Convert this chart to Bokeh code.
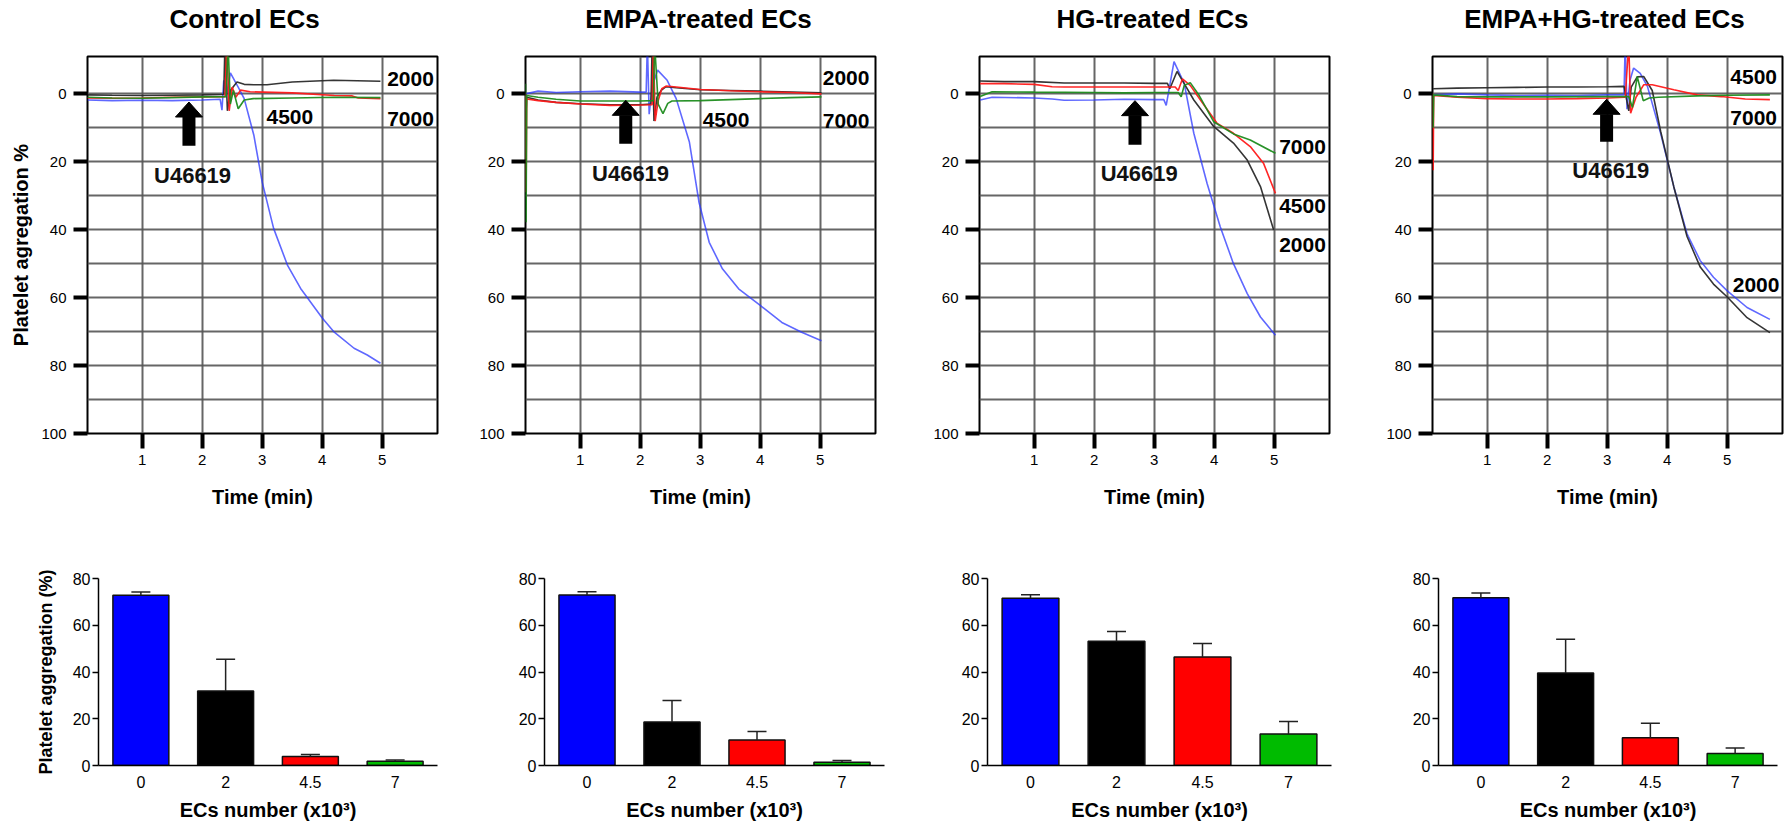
from bokeh.plotting import figure
from bokeh.layouts import row, column
from bokeh.models import Range1d, FactorRange, FixedTicker, Whisker, TeeHead, ColumnDataSource
from bokeh.embed import file_html
from bokeh.resources import INLINE
from bokeh.core.properties import value

FONT = "Liberation Sans"

# ---------------- data ----------------
titles = ["Control ECs", "EMPA-treated ECs", "HG-treated ECs", "EMPA+HG-treated ECs"]
time_ticks = [1, 2, 3, 4, 5]
agg_ticks = [0, 20, 40, 60, 80, 100]
grid_t = [1, 2, 3, 4, 5]
grid_v = [0, 10, 20, 30, 40, 50, 60, 70, 80, 90]

# Control traces (time min, aggregation %)
ctrl_blue_t = [0.09, 0.5, 1.0, 1.5, 2.0, 2.3, 2.33, 2.36, 2.40, 2.47, 2.6, 2.7, 2.86, 3.0, 3.19, 3.42, 3.64, 4.0, 4.19, 4.53, 4.75, 4.97]
ctrl_blue_v = [1.8, 2.0, 1.9, 2.0, 1.8, 1.6, 4.8, -4.0, 1.0, -6.2, -2.0, 1.4, 12.1, 26.0, 39.6, 50.4, 57.3, 66.0, 70.0, 74.9, 76.9, 79.3]
ctrl_black_t = [0.09, 0.5, 1.0, 1.5, 2.0, 2.36, 2.38, 2.42, 2.47, 2.58, 2.7, 2.86, 3.08, 3.5, 4.19, 4.97]
ctrl_black_v = [0.3, 0.4, 0.5, 0.4, 0.3, 0.2, -15.0, 5.0, -1.0, -3.5, -2.8, -2.7, -2.7, -3.5, -4.0, -3.7]
ctrl_red_t = [0.09, 0.5, 1.0, 1.5, 2.0, 2.38, 2.41, 2.45, 2.5, 2.56, 2.64, 2.8, 3.5, 4.2, 4.5, 4.6, 4.97]
ctrl_red_v = [1.2, 1.3, 1.2, 1.0, 0.9, 0.8, -15.0, 5.0, -2.0, 1.0, -1.1, -0.6, -0.3, 0.5, 0.6, 1.2, 1.4]
ctrl_green_t = [0.09, 0.5, 1.0, 1.5, 2.0, 2.4, 2.43, 2.47, 2.52, 2.6, 2.7, 2.85, 3.5, 4.2, 4.97]
ctrl_green_v = [1.0, 1.2, 1.3, 1.1, 0.9, 0.8, -15.0, 3.0, -1.0, 4.4, 1.8, 1.4, 1.2, 1.0, 1.1]

# EMPA-treated traces
empa_blue_t = [0.09, 0.3, 0.6, 1.0, 1.5, 2.0, 2.1, 2.12, 2.15, 2.2, 2.29, 2.45, 2.6, 2.82, 2.98, 3.15, 3.37, 3.64, 4.0, 4.36, 4.69, 5.02]
empa_blue_v = [0.0, -0.8, -0.4, -0.6, -0.8, -0.5, -0.5, -15.0, 6.0, -2.0, -7.0, -4.0, 1.4, 14.2, 31.9, 43.7, 51.5, 57.4, 62.3, 67.3, 70.2, 72.7]
empa_black_t = [0.09, 0.1, 0.11, 0.3, 0.6, 1.0, 1.5, 2.0, 2.18, 2.2, 2.23, 2.28, 2.35, 2.43, 2.6, 3.0, 3.5, 4.0, 5.02]
empa_black_v = [0.0, 5.0, 1.0, 1.8, 2.5, 2.9, 3.2, 3.2, 3.0, -15.0, 8.0, 1.0, -1.0, -2.1, -1.8, -1.2, -1.0, -0.8, -0.3]
empa_red_t = [0.09, 0.1, 0.11, 0.3, 0.6, 1.0, 1.5, 2.0, 2.2, 2.22, 2.25, 2.3, 2.36, 2.43, 2.6, 3.0, 3.5, 4.0, 4.5, 5.02]
empa_red_v = [0.0, 29.0, 1.5, 2.0, 2.5, 3.0, 3.4, 3.3, 3.2, -15.0, 8.0, 2.0, -1.5, -2.3, -2.0, -1.3, -0.9, -0.6, -0.4, 0.0]
empa_green_t = [0.09, 0.1, 0.11, 0.3, 0.6, 1.0, 1.5, 2.0, 2.22, 2.24, 2.3, 2.38, 2.46, 2.53, 3.0, 3.5, 4.0, 4.5, 5.02]
empa_green_v = [-3.0, 37.8, 0.5, 1.0, 1.6, 2.1, 2.1, 2.1, 2.0, -15.0, 3.0, 5.8, 2.8, 2.1, 2.0, 1.7, 1.4, 1.1, 0.9]

# HG-treated traces
hg_blue_t = [0.1, 0.3, 1.0, 1.3, 1.5, 2.0, 2.5, 3.0, 3.16, 3.2, 3.33, 3.5, 3.66, 3.88, 4.1, 4.32, 4.55, 4.77, 5.02]
hg_blue_v = [1.8, 1.0, 1.2, 1.5, 1.9, 1.8, 1.6, 1.7, 1.7, 3.4, -9.5, -3.1, 11.6, 26.3, 39.1, 50.0, 58.8, 65.7, 71.1]
hg_black_t = [0.1, 0.5, 1.0, 1.5, 2.0, 2.5, 3.0, 3.22, 3.26, 3.38, 3.5, 3.66, 3.99, 4.32, 4.55, 4.77, 4.99]
hg_black_v = [-3.8, -3.6, -3.6, -3.2, -3.2, -3.2, -3.1, -3.1, -1.5, -6.6, -3.0, 1.8, 9.6, 14.5, 19.5, 27.3, 40.1]
hg_red_t = [0.1, 0.5, 1.0, 1.3, 1.5, 2.0, 2.5, 3.0, 3.35, 3.4, 3.47, 3.6, 3.77, 4.05, 4.32, 4.6, 4.82, 5.02]
hg_red_v = [-3.0, -3.0, -2.8, -2.1, -2.0, -2.0, -2.0, -2.0, -2.0, -1.0, -4.4, -2.5, 1.8, 8.7, 11.6, 15.5, 20.4, 29.3]
hg_green_t = [0.1, 0.3, 1.0, 2.0, 2.5, 3.0, 3.4, 3.45, 3.5, 3.6, 3.75, 3.99, 4.32, 4.6, 5.02]
hg_green_v = [0.8, -0.6, -0.5, -0.4, -0.3, -0.4, -0.4, 0.9, -2.5, -3.3, 0.5, 8.2, 11.8, 13.6, 17.5]

# EMPA+HG-treated traces
ehg_blue_t = [0.1, 0.5, 1.0, 1.5, 2.0, 2.5, 3.0, 3.28, 3.3, 3.33, 3.38, 3.44, 3.55, 3.67, 3.89, 4.11, 4.33, 4.55, 4.77, 5.0, 5.33, 5.71]
ehg_blue_v = [0.3, 0.0, 0.3, 0.5, 0.4, 0.5, 0.3, 0.3, -15.0, 4.5, -4.0, -7.6, -6.0, -2.2, 11.6, 27.4, 41.2, 49.1, 54.0, 58.0, 62.9, 66.4]
ehg_black_t = [0.1, 0.5, 1.0, 1.5, 2.0, 2.5, 3.0, 3.28, 3.36, 3.4, 3.5, 3.61, 3.75, 3.89, 4.11, 4.33, 4.55, 4.77, 5.0, 5.33, 5.71]
ehg_black_v = [-1.5, -1.7, -1.8, -1.9, -2.0, -2.0, -2.1, -2.2, 5.0, -2.0, -5.0, -5.1, -1.0, 11.0, 27.4, 42.0, 51.0, 56.0, 59.8, 65.9, 70.3]
ehg_red_t = [0.1, 0.101, 0.11, 0.5, 1.0, 1.5, 2.0, 2.5, 3.0, 3.3, 3.36, 3.39, 3.48, 3.61, 3.75, 4.11, 4.5, 4.9, 5.3, 5.71]
ehg_red_v = [0.0, 22.5, 0.5, 1.0, 1.4, 1.5, 1.5, 1.4, 1.2, 1.0, -15.0, 5.7, 1.0, -2.7, -2.7, -1.2, 0.3, 0.8, 1.5, 1.7]
ehg_green_t = [0.1, 0.101, 0.11, 0.5, 1.0, 2.0, 3.0, 3.36, 3.42, 3.5, 3.6, 3.7, 3.85, 4.5, 5.0, 5.71]
ehg_green_v = [0.0, 10.0, 0.3, 0.8, 0.9, 0.9, 0.8, 0.8, 4.0, -5.1, 2.0, 1.2, 1.0, 0.6, 0.4, 0.3]

# trace annotations
ctrl_lbl_text = ["2000", "7000", "4500"]
ctrl_lbl_t = [5.47, 5.47, 3.46]
ctrl_lbl_v = [-4.5, 7.3, 6.8]
empa_lbl_text = ["2000", "7000", "4500"]
empa_lbl_t = [5.43, 5.43, 3.43]
empa_lbl_v = [-4.7, 8.0, 7.8]
hg_lbl_text = ["7000", "4500", "2000"]
hg_lbl_t = [5.47, 5.47, 5.47]
hg_lbl_v = [15.5, 32.9, 44.5]
ehg_lbl_text = ["4500", "7000", "2000"]
ehg_lbl_t = [5.44, 5.44, 5.48]
ehg_lbl_v = [-5.1, 7.2, 56.3]

agonist = "U46619"
agonist_t = [1.84, 1.84, 2.75, 3.06]
agonist_v = [23.9, 23.5, 23.4, 22.7]
arrow_t = [1.78, 1.76, 2.68, 2.99]
arrow_tip = [2.4, 1.9, 2.0, 1.6]
arrow_tail = [15.3, 14.7, 15.0, 14.1]

# bar charts: mean and SEM
cats = ["0", "2", "4.5", "7"]
bar_colors = ["#0000ff", "#000000", "#ff0000", "#00bb00"]
ctrl_mean = [72.8, 31.9, 3.8, 1.8]
ctrl_sem = [1.4, 13.6, 0.9, 0.5]
empa_mean = [72.9, 18.6, 10.9, 1.4]
empa_sem = [1.4, 9.2, 3.6, 0.7]
hg_mean = [71.5, 53.2, 46.4, 13.5]
hg_sem = [1.6, 4.1, 5.8, 5.3]
ehg_mean = [71.8, 39.6, 11.9, 5.1]
ehg_sem = [2.0, 14.4, 6.2, 2.4]

trace_colors = ["#2a35ff", "#2a2a2a", "#ff1a1a", "#1e8c1e"]

# ---------------- layout constants ----------------
T_START, T_END = 0.09, 5.92
V_BOTTOM, V_TOP = 100, -11
FRAME_W, FRAME_H = 350, 377
TITLE_H = 48             # height of the title strip
TITLE_Y_PX = 18          # title centre, pixels from top of page
TOP_H, TOP_BORDER = 490, 8
BAR_H, BAR_FRAME_H = 286, 189
col_w = [470, 455, 453, 406]
top_left = [87, 55, 54, 54]
title_shift_px = [-18, -2, -2, -3]
bar_left = [98, 74, 62, 60]
bar_frame_w = [339, 340, 344, 339]
bar_top = [39, 38, 38, 40]


def style_axis_common(ax):
    ax.major_label_text_font = FONT
    ax.axis_label_text_font = FONT
    ax.axis_label_text_font_style = "bold"
    ax.major_label_text_color = "black"
    ax.axis_label_text_color = "black"


def title_strip():
    total_w = sum(col_w)
    p = figure(width=total_w, height=TITLE_H, x_range=Range1d(0, total_w),
               y_range=Range1d(TITLE_H, 0), output_backend="svg", toolbar_location=None,
               x_axis_location=None, y_axis_location=None,
               min_border_left=0, min_border_right=0, min_border_top=0, min_border_bottom=0)
    p.outline_line_color = None
    p.xgrid.visible = False
    p.ygrid.visible = False
    starts = [sum(col_w[:k]) for k in range(len(col_w))]
    xs = [s + l + FRAME_W / 2 + d for s, l, d in zip(starts, top_left, title_shift_px)]
    p.text(x=xs, y=[TITLE_Y_PX] * len(xs), text=titles, text_font=value(FONT),
           text_font_size="26px", text_font_style="bold", text_color="black",
           text_align="center", text_baseline="middle")
    return p


def trace_fig(i, series, lbl_t, lbl_v, lbl_text):
    w = col_w[i]
    left = top_left[i]
    p = figure(width=w, height=TOP_H,
               x_range=Range1d(T_START, T_END), y_range=Range1d(V_BOTTOM, V_TOP),
               output_backend="svg", toolbar_location=None,
               min_border_left=left, min_border_right=w - left - FRAME_W,
               min_border_top=TOP_BORDER, min_border_bottom=TOP_H - TOP_BORDER - FRAME_H)
    p.outline_line_color = "black"
    p.outline_line_width = 2
    p.outline_line_alpha = 1
    p.background_fill_color = "white"

    px_per_t = FRAME_W / (T_END - T_START)
    px_per_v = FRAME_H / (V_BOTTOM - V_TOP)

    p.xgrid.ticker = FixedTicker(ticks=grid_t)
    p.ygrid.ticker = FixedTicker(ticks=grid_v)
    for g in (p.xgrid[0], p.ygrid[0]):
        g.grid_line_color = "#555555"
        g.grid_line_width = 2
        g.grid_line_alpha = 0.9

    xa = p.xaxis[0]
    xa.ticker = FixedTicker(ticks=time_ticks)
    xa.axis_line_color = None
    xa.major_tick_in = 0
    xa.major_tick_out = 15
    xa.major_tick_line_width = 4
    xa.minor_tick_line_color = None
    xa.major_label_text_font_size = "15px"
    xa.major_label_standoff = 6
    xa.axis_label = "Time (min)"
    xa.axis_label_text_font_size = "20px"
    xa.axis_label_standoff = 18
    style_axis_common(xa)

    ya = p.yaxis[0]
    ya.ticker = FixedTicker(ticks=agg_ticks)
    ya.axis_line_color = None
    ya.major_tick_in = 0
    ya.major_tick_out = 14
    ya.major_tick_line_width = 4
    ya.minor_tick_line_color = None
    ya.major_label_text_font_size = "15px"
    ya.major_label_standoff = 7
    if i == 0:
        ya.axis_label = "Platelet agregation %"
        ya.axis_label_text_font_size = "20px"
        ya.axis_label_standoff = 6
    style_axis_common(ya)

    for (t, v), c in zip(series, trace_colors):
        alpha = 0.75 if c == trace_colors[0] else 0.95
        p.line(t, v, line_color=c, line_width=1.6, line_alpha=alpha)

    p.text(x=lbl_t, y=lbl_v, text=lbl_text, text_font=value(FONT), text_font_style="bold",
           text_font_size="21px", text_align="center", text_baseline="middle", text_color="black")
    p.text(x=[agonist_t[i]], y=[agonist_v[i]], text=[agonist], text_font=value(FONT),
           text_font_style="bold", text_font_size="22px", text_align="center",
           text_baseline="middle", text_color="#111111")

    # arrow: shaft + head, sizes in pixels converted to data units
    head_half = 13.5 / px_per_t
    head_len = 15 / px_per_v
    at, tip, tail = arrow_t[i], arrow_tip[i], arrow_tail[i]
    p.segment(x0=[at], y0=[tail], x1=[at], y1=[tip + head_len], line_color="black",
              line_width=13, line_cap="butt")
    p.patch(x=[at - head_half, at, at + head_half], y=[tip + head_len, tip, tip + head_len],
            fill_color="black", line_color="black", line_width=1)
    return p


def bar_fig(i, mean, sem):
    w = col_w[i]
    left = bar_left[i]
    fw = bar_frame_w[i]
    top = bar_top[i]
    p = figure(width=w, height=BAR_H, x_range=FactorRange(factors=cats, range_padding=0),
               y_range=Range1d(0, 80), output_backend="svg", toolbar_location=None,
               min_border_left=left, min_border_right=w - left - fw,
               min_border_top=top, min_border_bottom=BAR_H - top - BAR_FRAME_H)
    p.outline_line_color = None
    p.xgrid.grid_line_color = None
    p.ygrid.grid_line_color = None
    upper = [m + s for m, s in zip(mean, sem)]
    src = ColumnDataSource(dict(x=cats, top=mean, upper=upper, color=bar_colors))
    p.vbar(x="x", top="top", width=0.66, fill_color="color", line_color="#111111",
           line_width=1.5, source=src)
    wh = Whisker(base="x", upper="upper", lower="top", source=src, line_width=1.5,
                 line_color="#222222", lower_head=None,
                 upper_head=TeeHead(size=19, line_width=1.5, line_color="#222222"))
    wh.level = "annotation"
    p.add_layout(wh)

    xa = p.xaxis[0]
    xa.axis_line_width = 1.5
    xa.major_tick_line_color = None
    xa.minor_tick_line_color = None
    xa.major_label_text_font_size = "16px"
    xa.major_label_standoff = 4
    xa.axis_label = "ECs number (x10³)"
    xa.axis_label_text_font_size = "20px"
    xa.axis_label_standoff = 8
    style_axis_common(xa)

    ya = p.yaxis[0]
    ya.ticker = FixedTicker(ticks=[0, 20, 40, 60, 80])
    ya.axis_line_width = 1.5
    ya.major_tick_in = 0
    ya.major_tick_out = 6
    ya.major_tick_line_width = 1.5
    ya.minor_tick_line_color = None
    ya.major_label_text_font_size = "16px"
    ya.major_label_standoff = 2
    if i == 0:
        ya.axis_label = "Platelet aggregation (%)"
        ya.axis_label_text_font_size = "18px"
        ya.axis_label_standoff = 14
    style_axis_common(ya)
    return p


tops = [
    trace_fig(0, [(ctrl_blue_t, ctrl_blue_v), (ctrl_black_t, ctrl_black_v), (ctrl_red_t, ctrl_red_v), (ctrl_green_t, ctrl_green_v)],
              ctrl_lbl_t, ctrl_lbl_v, ctrl_lbl_text),
    trace_fig(1, [(empa_blue_t, empa_blue_v), (empa_black_t, empa_black_v), (empa_red_t, empa_red_v), (empa_green_t, empa_green_v)],
              empa_lbl_t, empa_lbl_v, empa_lbl_text),
    trace_fig(2, [(hg_blue_t, hg_blue_v), (hg_black_t, hg_black_v), (hg_red_t, hg_red_v), (hg_green_t, hg_green_v)],
              hg_lbl_t, hg_lbl_v, hg_lbl_text),
    trace_fig(3, [(ehg_blue_t, ehg_blue_v), (ehg_black_t, ehg_black_v), (ehg_red_t, ehg_red_v), (ehg_green_t, ehg_green_v)],
              ehg_lbl_t, ehg_lbl_v, ehg_lbl_text),
]
bottoms = [
    bar_fig(0, ctrl_mean, ctrl_sem),
    bar_fig(1, empa_mean, empa_sem),
    bar_fig(2, hg_mean, hg_sem),
    bar_fig(3, ehg_mean, ehg_sem),
]

layout = column(title_strip(), row(*tops), row(*bottoms))
open("out.html", "w").write(file_html(layout, INLINE))
